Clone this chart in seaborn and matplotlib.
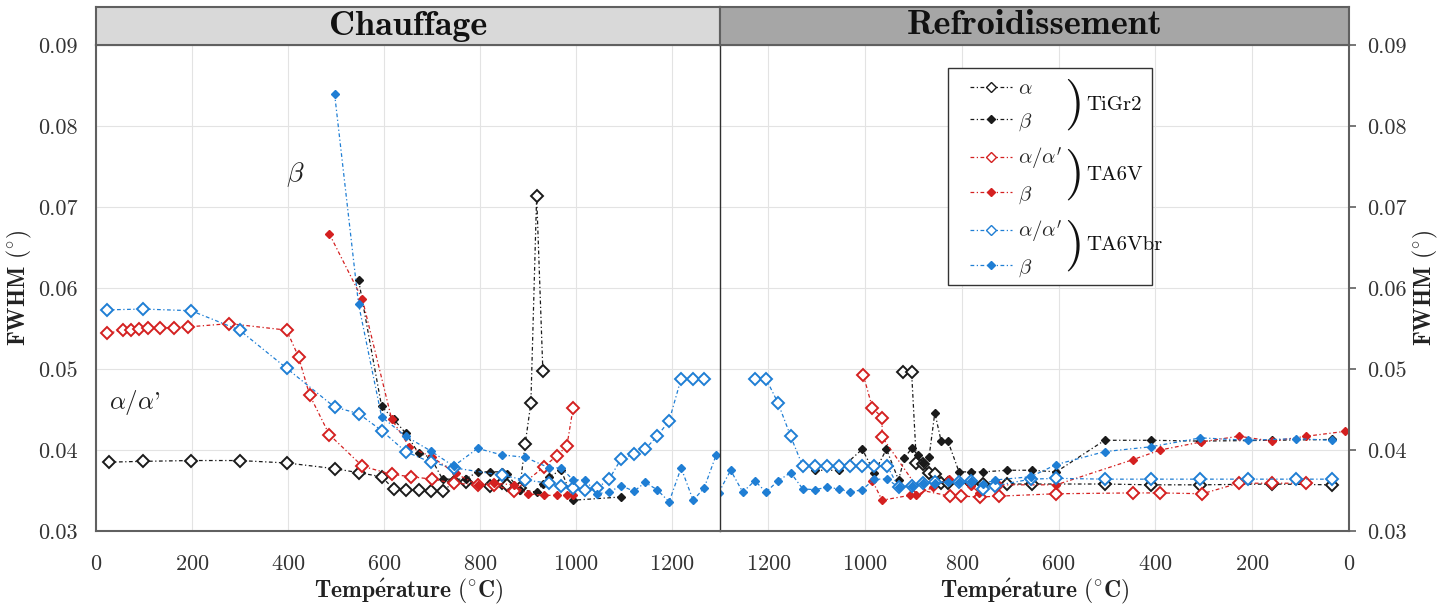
import matplotlib
matplotlib.use("Agg")
import matplotlib.pyplot as plt
import matplotlib.ticker as mticker
from matplotlib.patches import Rectangle
from matplotlib.lines import Line2D
import seaborn as sns

# ---- heating (Chauffage) ----
tigr2_a_heat_T = [27, 98, 198, 299, 397, 497, 547, 595, 620, 645, 672, 697, 722, 745, 770, 820, 845, 856, 883, 894, 906, 918, 931]
tigr2_a_heat_w = [0.0385, 0.0386, 0.0387, 0.0387, 0.0384, 0.0377, 0.0372, 0.0367, 0.0352, 0.0351, 0.0350, 0.0349, 0.0349,
                  0.0360, 0.0361, 0.0355, 0.0359, 0.0357, 0.0353, 0.0407, 0.0458, 0.0714, 0.0497]
tigr2_b_heat_T = [547, 595, 620, 645, 672, 697, 722, 770, 795, 820, 845, 856, 883, 918, 931, 944, 969, 994, 1094]
tigr2_b_heat_w = [0.0610, 0.0454, 0.0438, 0.0421, 0.0396, 0.0391, 0.0364, 0.0364, 0.0373, 0.0373, 0.0373, 0.0370,
                  0.0351, 0.0348, 0.0358, 0.0367, 0.0375, 0.0338, 0.0342]
ta6v_a_heat_T = [23, 56, 73, 90, 109, 134, 163, 192, 278, 397, 422, 445, 486, 555, 616, 656, 701, 745, 795, 829, 870, 933, 960, 981, 994]
ta6v_a_heat_w = [0.0544, 0.0548, 0.0548, 0.0549, 0.0550, 0.0551, 0.0551, 0.0552, 0.0556, 0.0548, 0.0515, 0.0468, 0.0419,
                 0.0380, 0.0370, 0.0367, 0.0364, 0.0359, 0.0357, 0.0357, 0.0349, 0.0379, 0.0393, 0.0405, 0.0452]
ta6v_b_heat_T = [486, 555, 616, 653, 701, 749, 795, 829, 870, 899, 933, 960, 981, 994]
ta6v_b_heat_w = [0.0667, 0.0586, 0.0438, 0.0404, 0.0391, 0.0371, 0.0357, 0.0359, 0.0357, 0.0346, 0.0344, 0.0344, 0.0344, 0.0344]
ta6vbr_a_heat_T = [23, 98, 198, 299, 397, 497, 547, 595, 645, 697, 745, 845, 894, 944, 969, 994, 1019, 1044, 1069, 1094,
                   1121, 1144, 1169, 1194, 1219, 1244, 1267]
ta6vbr_a_heat_w = [0.0573, 0.0574, 0.0572, 0.0548, 0.0501, 0.0453, 0.0445, 0.0424, 0.0398, 0.0385, 0.0378, 0.0369, 0.0363,
                   0.0359, 0.0356, 0.0353, 0.0351, 0.0353, 0.0364, 0.0389, 0.0395, 0.0401, 0.0417, 0.0436, 0.0488, 0.0488, 0.0488]
ta6vbr_b_heat_T = [497, 547, 595, 645, 697, 745, 795, 845, 894, 944, 969, 994, 1019, 1044, 1069, 1094, 1121, 1144, 1169,
                   1194, 1219, 1244, 1267, 1292]
ta6vbr_b_heat_w = [0.0840, 0.0580, 0.0441, 0.0417, 0.0399, 0.0380, 0.0402, 0.0394, 0.0391, 0.0378, 0.0378, 0.0363, 0.0363,
                   0.0346, 0.0348, 0.0356, 0.0349, 0.0360, 0.0351, 0.0336, 0.0378, 0.0338, 0.0353, 0.0394]

# ---- cooling (Refroidissement) ----
tigr2_a_cool_T = [921, 904, 894, 881, 868, 856, 843, 829, 781, 756, 706, 656, 505, 409, 307, 159, 35]
tigr2_a_cool_w = [0.0496, 0.0496, 0.0384, 0.0383, 0.0372, 0.0370, 0.0359, 0.0359, 0.0359, 0.0358, 0.0358, 0.0358,
                  0.0358, 0.0357, 0.0357, 0.0358, 0.0357]
tigr2_b_cool_T = [1104, 1054, 1006, 981, 956, 931, 919, 904, 891, 881, 868, 856, 843, 829, 806, 781, 756, 706, 656,
                  605, 505, 409, 307, 159, 35]
tigr2_b_cool_w = [0.0375, 0.0375, 0.0401, 0.0372, 0.0401, 0.0363, 0.0390, 0.0402, 0.0394, 0.0384, 0.0391, 0.0446, 0.0411,
                  0.0411, 0.0373, 0.0373, 0.0373, 0.0375, 0.0375, 0.0373, 0.0412, 0.0412, 0.0411, 0.0412, 0.0413]
ta6v_a_cool_T = [1004, 985, 965, 965, 889, 825, 802, 762, 724, 605, 447, 390, 303, 228, 159, 88]
ta6v_a_cool_w = [0.0493, 0.0452, 0.0440, 0.0416, 0.0351, 0.0343, 0.0343, 0.0342, 0.0343, 0.0346, 0.0347, 0.0347,
                 0.0346, 0.0359, 0.0359, 0.0359]
ta6v_b_cool_T = [985, 965, 908, 895, 860, 827, 781, 764, 724, 605, 447, 390, 305, 228, 159, 88, 8]
ta6v_b_cool_w = [0.0362, 0.0338, 0.0344, 0.0344, 0.0354, 0.0364, 0.0356, 0.0347, 0.0357, 0.0357, 0.0388, 0.0400,
                 0.0410, 0.0417, 0.0411, 0.0417, 0.0423]
ta6vbr_a_cool_T = [1228, 1205, 1180, 1154, 1129, 1104, 1079, 1054, 1031, 1006, 981, 954, 931, 904, 881, 856, 806, 781,
                   756, 731, 658, 605, 505, 409, 307, 209, 109, 35]
ta6vbr_a_cool_w = [0.0488, 0.0488, 0.0458, 0.0417, 0.0380, 0.0380, 0.0380, 0.0380, 0.0380, 0.0380, 0.0380, 0.0380,
                   0.0354, 0.0356, 0.0359, 0.0360, 0.0361, 0.0362, 0.0352, 0.0356, 0.0364, 0.0365, 0.0364, 0.0364,
                   0.0364, 0.0364, 0.0364, 0.0364]
ta6vbr_b_cool_T = [1303, 1278, 1253, 1228, 1205, 1180, 1154, 1129, 1104, 1079, 1054, 1031, 1006, 981, 954, 931, 904,
                   881, 856, 829, 806, 781, 756, 731, 658, 605, 505, 409, 307, 209, 109, 35]
ta6vbr_b_cool_w = [0.0347, 0.0375, 0.0348, 0.0362, 0.0348, 0.0362, 0.0372, 0.0352, 0.0351, 0.0354, 0.0352, 0.0348,
                   0.0351, 0.0364, 0.0364, 0.0354, 0.0356, 0.0359, 0.0359, 0.0361, 0.0361, 0.0362, 0.0358, 0.0363,
                   0.0367, 0.0382, 0.0398, 0.0404, 0.0415, 0.0412, 0.0414, 0.0412]

legend_labels = [r"$\alpha$", r"$\beta$", r"$\alpha/\alpha'$", r"$\beta$", r"$\alpha/\alpha'$", r"$\beta$"]
group_labels = ["TiGr2", "TA6V", "TA6Vbr"]
y_ticks = [0.03, 0.04, 0.05, 0.06, 0.07, 0.08, 0.09]
x_ticks = [0, 200, 400, 600, 800, 1000, 1200]

BLACK = "#1a1a1a"
RED = "#d42020"
BLUE = "#1f7ed4"
SPINE = "#606060"

sns.set_style("whitegrid", {"grid.color": "#e3e3e3", "axes.edgecolor": SPINE})
plt.rcParams["font.family"] = ["cmr10", "DejaVu Serif"]
plt.rcParams["mathtext.fontset"] = "cm"
plt.rcParams["axes.formatter.use_mathtext"] = True
plt.rcParams["axes.unicode_minus"] = False

fig = plt.figure(figsize=(14.51, 6.06), dpi=100)
W, H = 1451, 606
axL = fig.add_axes([96 / W, (H - 531) / H, 624 / W, 486 / H])
axR = fig.add_axes([720 / W, (H - 531) / H, 629 / W, 486 / H])

dash = (0, (3, 2, 1, 2))


def draw(ax, T, w, color, filled):
    sns.lineplot(x=T, y=w, ax=ax, sort=False, estimator=None, color=color,
                 marker="D", markersize=4.5 if filled else 6,
                 markerfacecolor=color if filled else "white",
                 markeredgecolor=color, markeredgewidth=1.0 if filled else 1.4,
                 linewidth=0.9, linestyle=dash)


series = [
    (tigr2_a_heat_T, tigr2_a_heat_w, tigr2_a_cool_T, tigr2_a_cool_w, BLACK, False),
    (tigr2_b_heat_T, tigr2_b_heat_w, tigr2_b_cool_T, tigr2_b_cool_w, BLACK, True),
    (ta6v_a_heat_T, ta6v_a_heat_w, ta6v_a_cool_T, ta6v_a_cool_w, RED, False),
    (ta6v_b_heat_T, ta6v_b_heat_w, ta6v_b_cool_T, ta6v_b_cool_w, RED, True),
    (ta6vbr_a_heat_T, ta6vbr_a_heat_w, ta6vbr_a_cool_T, ta6vbr_a_cool_w, BLUE, False),
    (ta6vbr_b_heat_T, ta6vbr_b_heat_w, ta6vbr_b_cool_T, ta6vbr_b_cool_w, BLUE, True),
]
for hT, hw, cT, cw, col, filled in series:
    draw(axL, hT, hw, col, filled)
    draw(axR, cT, cw, col, filled)

xlab = r"$\mathbf{Temp\acute{e}rature\ (^{\circ}C)}$"
ylab = r"$\mathbf{FWHM\ (^{\circ})}$"
for ax in (axL, axR):
    ax.set_ylim(0.03, 0.09)
    ax.set_yticks(y_ticks)
    ax.set_xticks(x_ticks)
    ax.yaxis.set_major_formatter(mticker.FormatStrFormatter("%.2f"))
    ax.tick_params(labelsize=16, colors=SPINE, labelcolor="#333333", length=5, width=1.2, pad=12)
    ax.tick_params(axis="y", pad=8)
    for s in ax.spines.values():
        s.set_linewidth(1.5)
        s.set_color(SPINE)
    ax.set_xlabel(xlab, fontsize=17, labelpad=2, color="#222222")
    ax.set_ylabel(ylab, fontsize=17, labelpad=3, color="#222222")

axL.set_xlim(0, 1300)
axR.set_xlim(1300, 0)
axR.yaxis.tick_right()
axR.yaxis.set_label_position("right")
axR.tick_params(axis="y", right=True, left=False)
axR.spines["left"].set_color("#303030")
axR.spines["left"].set_linewidth(1.0)
axL.spines["right"].set_visible(False)

# annotations in the heating panel
axL.text(415, 0.0740, r"$\beta$", fontsize=20, ha="center", va="center", color="#222222")
axL.text(81, 0.0459, r"$\alpha/\alpha$'", fontsize=18, ha="center", va="center", color="#222222")

# headers
for x0, wd, col, title in [(96, 624, "#d9d9d9", "Chauffage"), (720, 629, "#a6a6a6", "Refroidissement")]:
    hax = fig.add_axes([x0 / W, (H - 45) / H, wd / W, 38 / H])
    hax.set_facecolor(col)
    hax.set_xticks([])
    hax.set_yticks([])
    hax.grid(False)
    for s in hax.spines.values():
        s.set_color(SPINE)
        s.set_linewidth(1.5)
    hax.text(0.5, 0.5, title, family="cmb10", fontsize=26, ha="center", va="center",
             transform=hax.transAxes, color="#111111")

# legend
handles = []
for _, _, _, _, col, filled in series:
    handles.append(Line2D([], [], color=col, linestyle=dash, linewidth=0.9, marker="D",
                          markersize=4.5 if filled else 5.5,
                          markerfacecolor=col if filled else "white", markeredgecolor=col))
axR.add_patch(Rectangle((0.3625, 0.506), 0.3245, 0.447, transform=axR.transAxes,
                        facecolor="white", edgecolor="#333333", linewidth=1.0, zorder=5))
leg = axR.legend(handles, legend_labels, loc="upper left", bbox_to_anchor=(0.385, 0.945),
                 frameon=False, fontsize=15, labelspacing=0.6, handlelength=2.0,
                 handletextpad=0.3, borderaxespad=0)
leg.set_zorder(6)
for lab, yc in zip(group_labels, [0.877, 0.733, 0.588]):
    axR.text(0.563, yc, ")", transform=axR.transAxes, fontsize=36, ha="center", va="center",
             family="cmr10", color="#111111", zorder=7)
    axR.text(0.582, yc, lab, transform=axR.transAxes, fontsize=15, ha="left", va="center",
             color="#111111", zorder=7)

fig.savefig("out.png", dpi=100)
